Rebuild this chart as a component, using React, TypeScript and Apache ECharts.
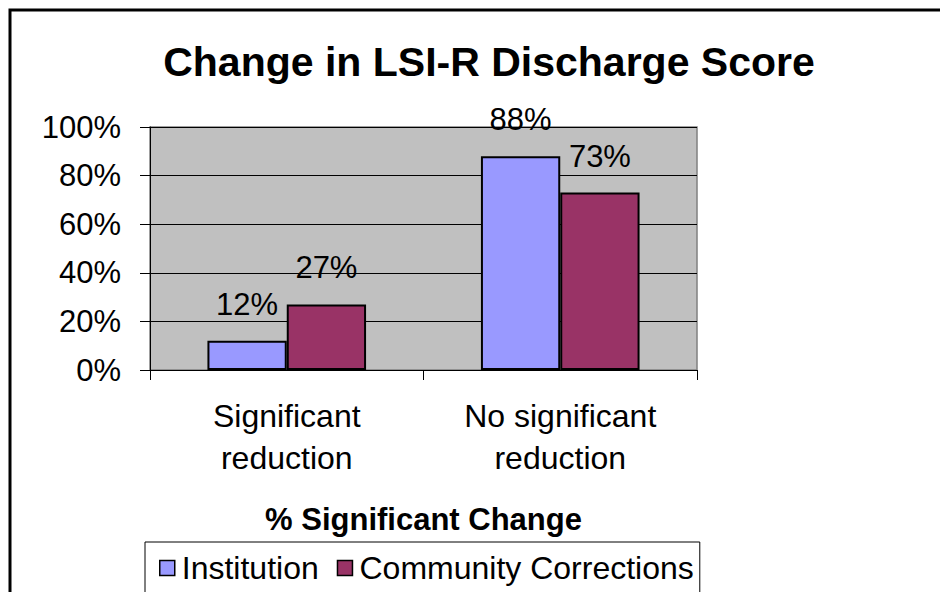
import React, { useEffect, useRef } from "react";
import * as echarts from "echarts";

const categories = ["Significant\nreduction", "No significant\nreduction"];
const institution = [12, 88];
const community = [27, 73];
const seriesNames = ["Institution", "Community Corrections"];
const titleText = "Change in LSI-R Discharge Score";
const axisTitle = "% Significant Change";

export default function App() {
  const ref = useRef<HTMLDivElement>(null);
  useEffect(() => {
    if (!ref.current) return;
    const chart = echarts.init(ref.current, null, { renderer: "svg" });
    const font = "'Liberation Sans', Arial, sans-serif";
    const labelCfg = {
      show: true,
      position: "top",
      distance: 21,
      formatter: "{c}%",
      fontSize: 31,
      color: "#000",
      fontFamily: font,
    };
    chart.setOption({
      animation: false,
      textStyle: { fontFamily: font },
      title: {
        text: titleText,
        left: 484,
        textAlign: "center",
        top: 36,
        textStyle: { fontSize: 41, fontWeight: "bold", color: "#000", fontFamily: font },
      },
      graphic: [
        {
          type: "rect",
          shape: { x: 10, y: 10, width: 1000, height: 700 },
          style: { fill: "none", stroke: "#000", lineWidth: 3 },
          silent: true,
          z: 100,
        },
      ],
      legend: {
        data: seriesNames,
        left: 145,
        top: 542,
        orient: "horizontal",
        padding: [10, 6, 24, 14],
        borderColor: "#000",
        borderWidth: 1,
        itemWidth: 15,
        itemHeight: 15,
        itemGap: 18,
        icon: "rect",
        itemStyle: { borderColor: "#000", borderWidth: 1.5 },
        textStyle: { fontSize: 32, color: "#000", fontFamily: font, padding: [0, 0, 0, 2] },
      },
      grid: {
        left: 150,
        top: 127,
        width: 547,
        height: 243,
        show: true,
        backgroundColor: "#C0C0C0",
        borderColor: "#808080",
        borderWidth: 1.5,
      },
      xAxis: {
        type: "category",
        data: categories,
        name: axisTitle,
        nameLocation: "middle",
        nameGap: 134,
        nameTextStyle: { fontSize: 31, fontWeight: "bold", color: "#000", fontFamily: font },
        axisLine: { show: true, lineStyle: { color: "#000", width: 1 } },
        axisTick: { show: true, length: 10, lineStyle: { color: "#000" } },
        axisLabel: {
          fontSize: 32,
          color: "#000",
          lineHeight: 42,
          margin: 25,
          fontFamily: font,
        },
      },
      yAxis: {
        type: "value",
        min: 0,
        max: 100,
        interval: 20,
        axisLine: { show: true, lineStyle: { color: "#000", width: 1 } },
        axisTick: { show: true, length: 10, lineStyle: { color: "#000" } },
        axisLabel: {
          formatter: "{value}%",
          fontSize: 31,
          color: "#000",
          margin: 29,
          fontFamily: font,
        },
        splitLine: { show: true, lineStyle: { color: "#000", width: 1 } },
      },
      series: [
        {
          name: seriesNames[0],
          type: "bar",
          data: institution,
          barGap: "0%",
          barCategoryGap: "42%",
          itemStyle: { color: "#9999FF", borderColor: "#000", borderWidth: 2 },
          label: labelCfg,
        },
        {
          name: seriesNames[1],
          type: "bar",
          data: community,
          barGap: "0%",
          barCategoryGap: "42%",
          itemStyle: { color: "#993366", borderColor: "#000", borderWidth: 2 },
          label: labelCfg,
        },
      ],
    });
    return () => chart.dispose();
  }, []);
  return (
    <div
      ref={ref}
      style={{ position: "fixed", left: 0, top: 0, width: 940, height: 592, background: "#fff" }}
    />
  );
}
